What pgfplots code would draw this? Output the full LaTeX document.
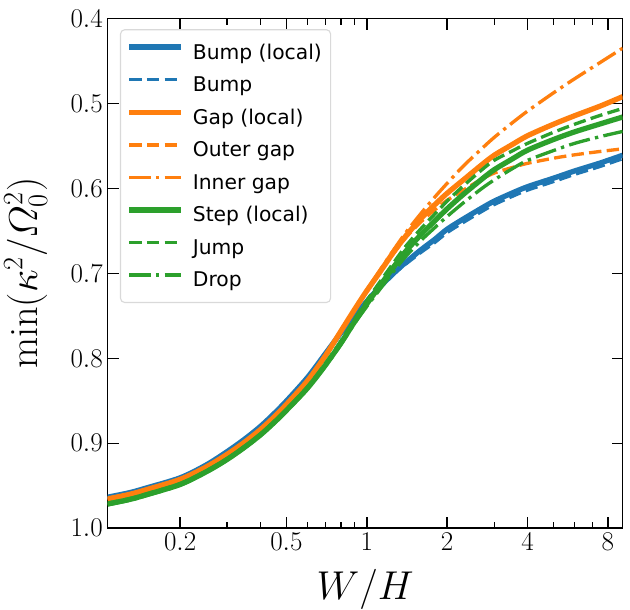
\RequirePackage{fix-cm}
\documentclass[border=0pt]{standalone}
\usepackage{amsmath}
\usepackage{fontspec}
\usepackage{pgfplots}
\usepackage{pgfplotstable}
\pgfplotsset{compat=1.18}
\newfontfamily\legfont{DejaVu Sans}
\definecolor{c0}{HTML}{1F77B4}
\definecolor{c1}{HTML}{FF7F0E}
\definecolor{c2}{HTML}{2CA02C}

\pgfplotstableread{
x B Bd G Go Gi S J D
0.107 .9635 .964 .9655 .9658 .9653 .9715 .9705 .9725
0.13 .958 .9585 .960 .9603 .9598 .966 .965 .967
0.15 .9525 .953 .9545 .9548 .9543 .9605 .9595 .9615
0.2 .9407 .9412 .9425 .9428 .9423 .9485 .9475 .9495
0.25 .9257 .9262 .928 .9283 .9278 .9337 .9327 .9347
0.3 .9098 .9103 .913 .9133 .9128 .919 .918 .920
0.35 .8948 .8953 .8983 .8986 .8981 .9043 .9033 .9053
0.4 .8801 .8806 .8838 .8841 .8836 .8901 .8891 .8911
0.45 .865 .8655 .869 .8693 .8688 .8755 .8745 .8765
0.5 .8503 .8508 .8543 .8546 .8541 .8613 .8603 .8623
0.6 .8225 .823 .8264 .8267 .8262 .835 .8335 .836
0.7 .7945 .795 .797 .7973 .7966 .808 .806 .8095
0.8 .770 .7705 .768 .7683 .7675 .782 .7795 .784
0.9 .750 .7505 .7425 .743 .742 .757 .754 .759
1.0 .733 .7335 .7205 .721 .7195 .736 .732 .739
1.1 .7185 .719 .702 .7025 .700 .718 .7135 .722
1.25 .701 .7015 .6765 .678 .674 .694 .689 .699
1.4 .687 .689 .656 .658 .652 .674 .668 .680
1.6 .672 .675 .635 .639 .629 .654 .647 .661
1.8 .6598 .6635 .619 .625 .610 .638 .630 .646
2.0 .648 .652 .6057 .614 .594 .624 .615 .633
2.3 .636 .640 .590 .602 .5737 .607 .597 .617
2.7 .623 .627 .572 .589 .553 .589 .578 .600
3.0 .615 .619 .561 .582 .540 .578 .567 .590
3.5 .6055 .6095 .5485 .5755 .523 .5655 .556 .577
4.0 .598 .602 .538 .5705 .509 .555 .547 .567
5.0 .588 .592 .5245 .5645 .4876 .5425 .534 .5555
6.0 .5795 .5835 .5145 .5605 .471 .5335 .5245 .547
7.5 .570 .574 .503 .5565 .4516 .524 .514 .539
9.08 .561 .565 .492 .5535 .435 .516 .506 .533
}\data

\begin{document}
\begin{tikzpicture}
\begin{axis}[
  name=ax,
  scale only axis,
  width=370.8pt, height=367pt,
  xmode=log, xmin=0.107, xmax=9.08,
  ymin=0.4, ymax=1.0, y dir=reverse,
  xtick={0.2,0.5,1,2,4,8},
  xticklabels={$0.2$,$0.5$,$1$,$2$,$4$,$8$},
  minor xtick={0.3,0.4,0.6,0.7,0.8,0.9,3,5,6,7},
  ytick={0.4,0.5,0.6,0.7,0.8,0.9,1.0},
  yticklabels={$0.4$,$0.5$,$0.6$,$0.7$,$0.8$,$0.9$,$1.0$},
  tick align=inside,
  xtick pos=both, ytick pos=both,
  major tick length=8pt, minor tick length=4.8pt,
  every tick/.style={black, line width=1pt},
  axis line style={line width=1.1pt},
  tick label style={font=\fontsize{19.5}{23}\selectfont},
  label style={font=\fontsize{29}{35}\selectfont},
  xlabel={$W/H$},
  ylabel={$\min(\kappa^2/\varOmega_0^2)$},
  xlabel shift=7pt,
  ylabel shift=10pt,
  legend cell align=left,
  legend image code/.code={\draw[#1] (0pt,3.8pt) -- (37pt,3.8pt);},
  legend style={at={(0.024,0.979)}, anchor=north west,
    font=\legfont\fontsize{14.6}{17}\selectfont,
    draw=black!15, line width=0.8pt, rounded corners=3pt,
    fill=white, fill opacity=0.8, text opacity=1,
    inner xsep=4.3pt, inner ysep=8pt, row sep=7.1pt,
    /tikz/every odd column/.append style={column sep=5pt}},
  solidl/.style={line width=3.8pt},
  dashl/.style={line width=2.4pt, dash pattern=on 8.9pt off 3.84pt, line cap=butt},
  dotl/.style={line width=2.4pt, dash pattern=on 15.4pt off 3.84pt on 2.4pt off 3.84pt, line cap=butt},
]
\addplot[c0, solidl, smooth] table[x=x, y=B] {\data};
\addlegendentry{Bump (local)}
\addplot[c0, dashl, smooth] table[x=x, y=Bd] {\data};
\addlegendentry{Bump}
\addplot[c1, solidl, smooth] table[x=x, y=G] {\data};
\addlegendentry{Gap (local)}
\addplot[c1, dashl, smooth] table[x=x, y=Go] {\data};
\addlegendentry{Outer gap}
\addplot[c1, dotl, smooth] table[x=x, y=Gi] {\data};
\addlegendentry{Inner gap}
\addplot[c2, solidl, smooth] table[x=x, y=S] {\data};
\addlegendentry{Step (local)}
\addplot[c2, dashl, smooth] table[x=x, y=J] {\data};
\addlegendentry{Jump}
\addplot[c2, dotl, smooth] table[x=x, y=D] {\data};
\addlegendentry{Drop}
\end{axis}
\pgfresetboundingbox
\path ([shift={(-77.5pt,-58.8pt)}]ax.south west) rectangle ([shift={(5.3pt,13.3pt)}]ax.north east);
\end{tikzpicture}
\end{document}
